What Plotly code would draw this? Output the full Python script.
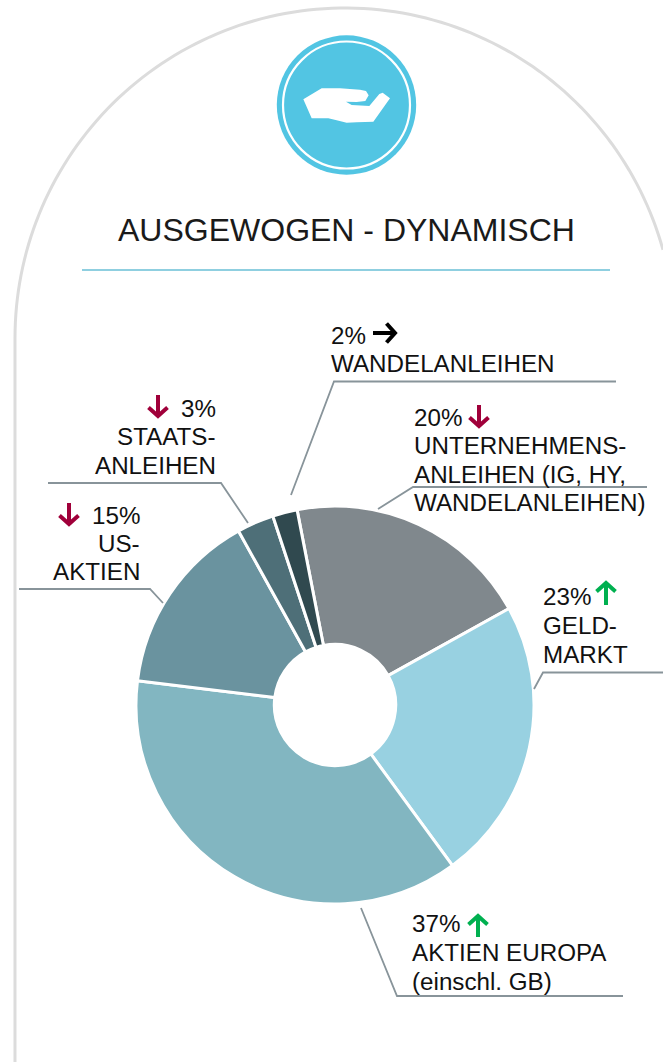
import math
import plotly.graph_objects as go

W, H = 663, 1062

# ---- data ----
categories = ["Unternehmensanleihen", "Geldmarkt", "Aktien Europa", "US-Aktien", "Staatsanleihen", "Wandelanleihen"]
values = [20, 23, 37, 15, 3, 2]
slice_colors = ["#80888D", "#98D1E1", "#82B6C1", "#6A939F", "#4E6F78", "#30494F"]

title = "AUSGEWOGEN - DYNAMISCH"

# text, x, y centre, anchor
label_lines = [
    ("2%", 331, 335, "left"), ("WANDELANLEIHEN", 331, 363, "left"),
    ("20%", 414, 417, "left"), ("UNTERNEHMENS-", 414, 445, "left"),
    ("ANLEIHEN (IG, HY,", 414, 474, "left"), ("WANDELANLEIHEN)", 414, 503, "left"),
    ("23%", 543, 596, "left"), ("GELD-", 543, 625, "left"), ("MARKT", 543, 654, "left"),
    ("37%", 412, 923, "left"), ("AKTIEN EUROPA", 412, 952, "left"), ("(einschl. GB)", 412, 981, "left"),
    ("3%", 216, 408, "right"), ("STAATS-", 216, 436, "right"), ("ANLEIHEN", 216, 465, "right"),
    ("15%", 140, 515, "right"), ("US-", 140, 543, "right"), ("AKTIEN", 140, 571, "right"),
]

leaders = [
    [(291, 495), (334, 381.5), (616, 381.5)],
    [(48, 483), (221, 483), (248, 523)],
    [(19, 589), (150, 589), (163, 603)],
    [(378, 509), (413, 487), (647, 487)],
    [(534, 689), (543, 672.5), (663, 672.5)],
    [(361, 908), (397, 996), (623, 996)],
]

CRIMSON, GREEN, BLACK = "#A0003A", "#00B050", "#000000"
# direction, centre x, start, end, colour
arrows = [
    ("right", 333, 373, 396, BLACK),
    ("down", 479, 405, 427, CRIMSON),
    ("up", 606, 582, 605, GREEN),
    ("up", 478, 915, 937, GREEN),
    ("down", 158, 395, 417, CRIMSON),
    ("down", 69, 503, 525, CRIMSON),
]

hand_zoom = [(190, 238), (245, 205), (300, 205), (360, 209), (378, 213), (386, 226), (376, 243), (350, 246),
             (318, 245), (335, 255), (388, 258), (418, 222), (428, 218), (450, 235), (400, 305), (350, 307),
             (320, 308), (290, 301), (265, 295), (215, 295)]


def px(x):
    return x / W


def py(y):
    return 1 - y / H


def path(points, close=False):
    s = "M " + " L ".join(f"{px(x):.5f},{py(y):.5f}" for x, y in points)
    return s + (" Z" if close else "")


def line_shape(points, color, width):
    return dict(type="path", xref="paper", yref="paper", path=path(points),
                line=dict(color=color, width=width), fillcolor="rgba(0,0,0,0)")


def circle(cx, cy, r, **kw):
    return dict(type="circle", xref="paper", yref="paper", x0=px(cx - r), x1=px(cx + r),
                y0=py(cy + r), y1=py(cy - r), **kw)


shapes = []

# arch outline
acx, acy, ar = 345, 338, 330
arch = [(15, 1062), (15, acy)]
for i in range(1, 121):
    a = math.pi - i / 120 * (math.pi - math.acos((663 - acx) / ar))
    arch.append((acx + ar * math.cos(a), acy - ar * math.sin(a)))
shapes.append(line_shape(arch, "#DCDCDC", 3))

# icon
shapes.append(circle(346.5, 105, 69.7, fillcolor="#52C5E3", line=dict(width=0)))
shapes.append(circle(346.5, 105, 63.5, fillcolor="rgba(0,0,0,0)", line=dict(color="#FFFFFF", width=2.2)))
hand = [(240 + x / 3, 20 + y / 3) for x, y in hand_zoom]
shapes.append(dict(type="path", xref="paper", yref="paper", path=path(hand, True),
                   fillcolor="#FFFFFF", line=dict(width=0)))

# title rule
shapes.append(line_shape([(82, 270), (610, 270)], "#8FCFE0", 2))

for pts in leaders:
    shapes.append(line_shape(pts, "#88949A", 1.8))

sw = 4
head = 9.5
for kind, c, a, b, col in arrows:
    if kind == "right":
        shapes.append(line_shape([(a, c), (b - 2, c)], col, sw))
        shapes.append(line_shape([(b - head, c - head), (b - 1, c), (b - head, c + head)], col, sw))
    elif kind == "down":
        shapes.append(line_shape([(c, a), (c, b - 2)], col, sw))
        shapes.append(line_shape([(c - head, b - head), (c, b - 1), (c + head, b - head)], col, sw))
    else:
        shapes.append(line_shape([(c, b), (c, a + 2)], col, sw))
        shapes.append(line_shape([(c - head, a + head), (c, a + 1), (c + head, a + head)], col, sw))

annotations = [dict(text=title, xref="paper", yref="paper", x=px(346.5), y=py(230), xanchor="center",
                    yanchor="middle", showarrow=False, font=dict(family="Liberation Sans", size=32, color="#1A1A1A"))]
for text, x, y, anchor in label_lines:
    annotations.append(dict(text=text, xref="paper", yref="paper", x=px(x), y=py(y), xanchor=anchor,
                            yanchor="middle", showarrow=False, borderpad=0, borderwidth=0,
                            font=dict(family="Liberation Sans", size=24.2, color="#111111")))

fig = go.Figure(go.Pie(
    labels=categories, values=values, sort=False, direction="clockwise", rotation=-11,
    hole=0.305, textinfo="none", showlegend=False,
    marker=dict(colors=slice_colors, line=dict(color="#FFFFFF", width=3)),
    domain=dict(x=[px(136), px(534)], y=[py(904), py(506)]),
))
fig.update_layout(width=W, height=H, margin=dict(l=0, r=0, t=0, b=0), paper_bgcolor="#FFFFFF",
                  plot_bgcolor="#FFFFFF", shapes=shapes, annotations=annotations)
fig.write_html("out.html", config=dict(displayModeBar=False),
               post_script="document.body.style.margin='0';document.body.style.overflow='hidden';")
